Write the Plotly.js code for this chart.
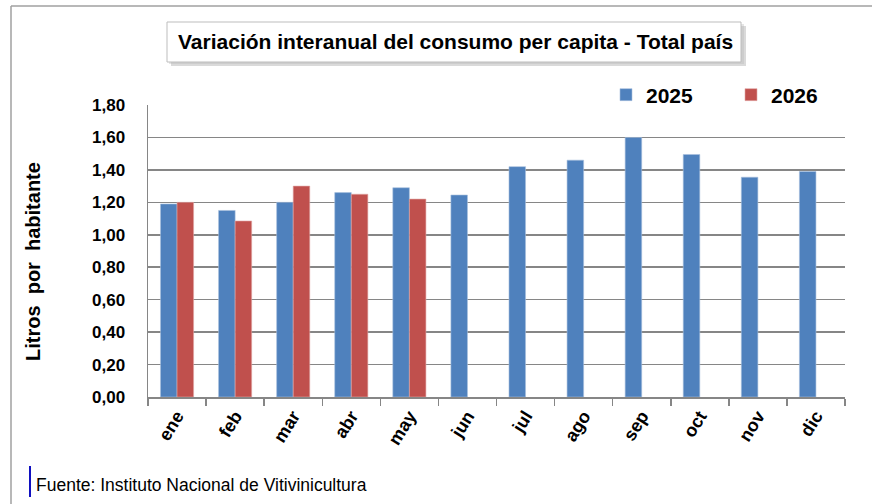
<!DOCTYPE html>
<html>
<head>
<meta charset="utf-8">
<script src="https://cdn.plot.ly/plotly-3.0.1.min.js"></script>
<style>html,body{margin:0;padding:0;background:#fff;}#chart{width:872px;height:504px;}</style>
</head>
<body>
<div id="chart"></div>
<script>
const months = ["ene","feb","mar","abr","may","jun","jul","ago","sep","oct","nov","dic"];
const values2025 = [1.19, 1.15, 1.20, 1.26, 1.29, 1.245, 1.42, 1.46, 1.60, 1.495, 1.355, 1.39];
const values2026 = [1.20, 1.085, 1.30, 1.25, 1.22, null, null, null, null, null, null, null];
const seriesNames = ["2025", "2026"];
const yTicks = [0, 0.2, 0.4, 0.6, 0.8, 1.0, 1.2, 1.4, 1.6, 1.8];

const W = 872, H = 504;
const L = 148, R = 845, T = 105, B = 397;
function px(x){ return (x - L) / (R - L); }
function py(y){ return (B - y) / (B - T); }

const FONT = "Liberation Sans, Arial, sans-serif";

const traces = [
  {type:"bar", name:seriesNames[0], x:months, y:values2025,
   marker:{color:"#4F81BD", line:{color:"#A7C0DE", width:0.6}}},
  {type:"bar", name:seriesNames[1], x:months, y:values2026,
   marker:{color:"#C0504D", line:{color:"#E0A8A6", width:0.6}}}
];

const layout = {
  width:W, height:H,
  margin:{l:L, r:W-R, t:T, b:H-B, pad:0, autoexpand:false},
  paper_bgcolor:"#fff", plot_bgcolor:"#fff",
  font:{family:FONT, color:"#000"},
  barmode:"group", bargap:0.43, bargroupgap:0,
  separators:",.",
  showlegend:true,
  legend:{orientation:"h", x:px(606), xanchor:"left", y:py(95), yanchor:"middle",
          bgcolor:"rgba(0,0,0,0)", font:{size:21, family:FONT, weight:"bold"},
          entrywidth:80, entrywidthmode:"pixels", itemclick:false, traceorder:"normal"},
  xaxis:{type:"category", showline:true, linecolor:"#868686", linewidth:1.5,
         ticks:"outside", tickson:"boundaries", ticklen:7, tickcolor:"#868686", tickwidth:1.5,
         tickangle:-58, tickfont:{size:18, family:FONT, weight:"bold"}, showgrid:false,
         automargin:false, fixedrange:true},
  yaxis:{range:[0,1.8], tickvals:yTicks, tickformat:".2f", showline:true, linecolor:"#868686", linewidth:1.5,
         showgrid:true, gridcolor:"#868686", gridwidth:1.5, zeroline:false, ticks:"",
         ticklabelstandoff:18, tickfont:{size:17, family:FONT, weight:"bold"},
         automargin:false, fixedrange:true},
  shapes:[
    {type:"rect", xref:"paper", yref:"paper", x0:px(571), x1:px(846), y0:py(99), y1:py(111),
     fillcolor:"#fff", line:{width:0}, layer:"above"},
    {type:"line", xref:"paper", yref:"paper", x0:px(11), x1:px(872), y0:py(6), y1:py(6),
     line:{color:"#a0a0a0", width:1.5}},
    {type:"line", xref:"paper", yref:"paper", x0:px(11), x1:px(11), y0:py(6), y1:py(504),
     line:{color:"#a0a0a0", width:1.5}},
    {type:"rect", xref:"paper", yref:"paper", x0:px(171), x1:px(746), y0:py(26), y1:py(66),
     fillcolor:"rgba(150,150,150,0.35)", line:{width:0}},
    {type:"rect", xref:"paper", yref:"paper", x0:px(169), x1:px(744), y0:py(24), y1:py(64),
     fillcolor:"rgba(180,180,180,0.35)", line:{width:0}},
    {type:"rect", xref:"paper", yref:"paper", x0:px(167), x1:px(741), y0:py(22), y1:py(62),
     fillcolor:"#fff", line:{color:"#bdbdbd", width:1}},
    {type:"line", xref:"paper", yref:"paper", x0:px(30), x1:px(30), y0:py(466), y1:py(497),
     line:{color:"#1010c0", width:2}}
  ],
  annotations:[
    {text:"Variación interanual del consumo per capita - Total país", xref:"paper", yref:"paper",
     x:px(455), y:py(42), xanchor:"center", yanchor:"middle", showarrow:false,
     font:{size:21, family:FONT, weight:"bold", color:"#000"}},
    {text:"Litros  por  habitante", xref:"paper", yref:"paper", textangle:-90,
     x:px(33), y:py(262), xanchor:"center", yanchor:"middle", showarrow:false,
     font:{size:20, family:FONT, weight:"bold", color:"#000"}},
    {text:"Fuente: Instituto Nacional de Vitivinicultura", xref:"paper", yref:"paper",
     x:px(34), y:py(485), xanchor:"left", yanchor:"middle", showarrow:false,
     font:{size:17.5, family:FONT, color:"#000"}}
  ]
};

Plotly.newPlot("chart", traces, layout, {displayModeBar:false, staticPlot:true});
</script>
</body>
</html>
